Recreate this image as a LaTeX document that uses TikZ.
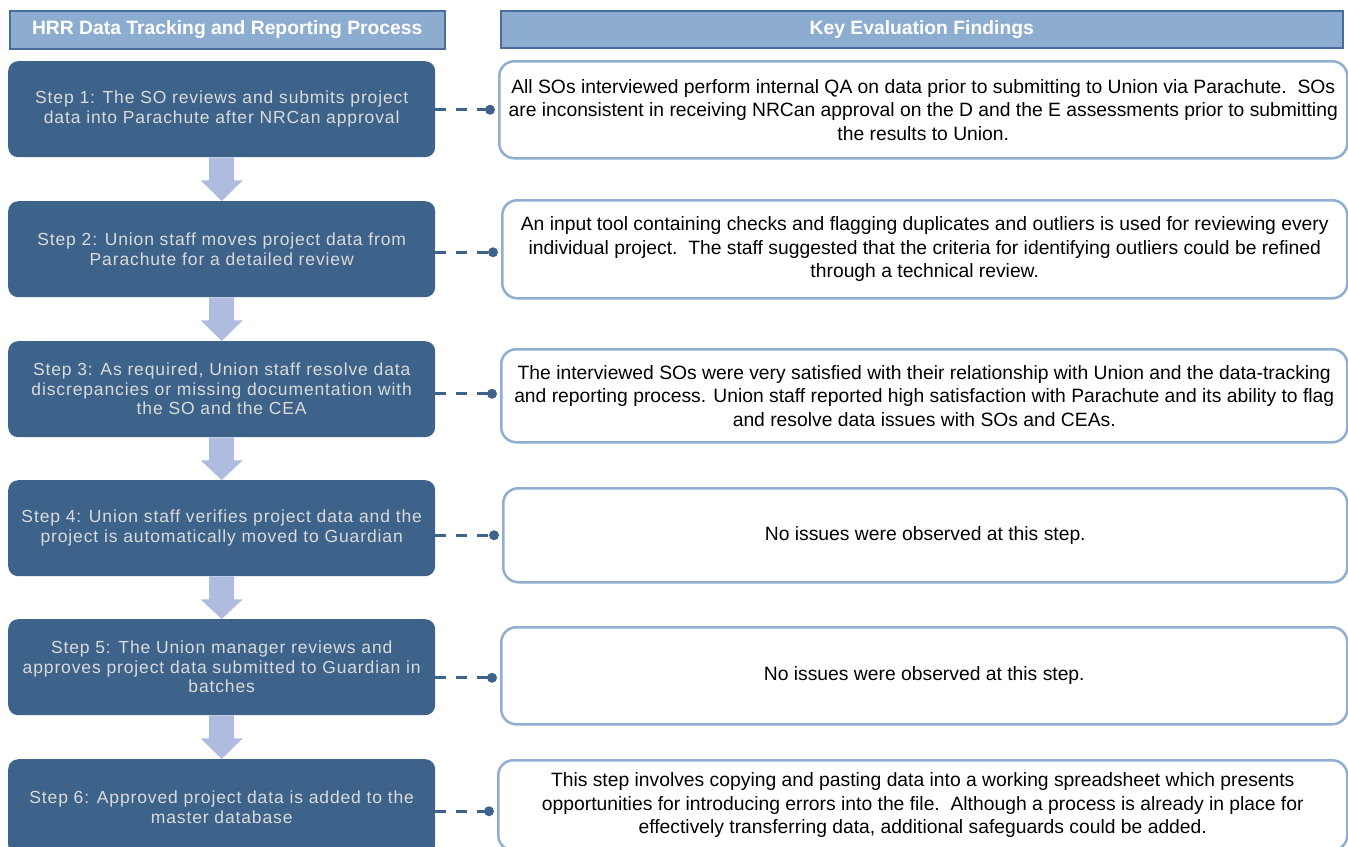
\documentclass[tikz,border=0pt]{standalone}
\usepackage{fontspec}
\setmainfont{Liberation Sans}
\newfontfamily\stepfont[LetterSpace=5]{Liberation Sans}
\definecolor{stepblue}{RGB}{62,99,138}
\definecolor{steptext}{RGB}{218,218,218}
\definecolor{headfill}{RGB}{141,173,208}
\definecolor{headline}{RGB}{74,108,158}
\definecolor{findline}{RGB}{143,174,210}
\definecolor{arrowfill}{RGB}{176,188,223}
\begin{document}
\begin{tikzpicture}[x=1pt,y=-1pt,
  stepbox/.style={fill=stepblue, draw=none, rounded corners=10pt, anchor=north west,
    minimum width=427pt, minimum height=96pt, align=center, text=steptext,
    font=\stepfont\fontsize{17.5}{19.5}\selectfont, inner sep=4pt},
  findbox/.style={fill=white, draw=findline, line width=2.5pt, rounded corners=15pt,
    anchor=north west, align=center, text=black, inner sep=2pt,
    font=\fontsize{19.3}{23.5}\selectfont},
  headbox/.style={fill=headfill, draw=headline, line width=1.5pt, anchor=north west,
    text=white, align=center, inner sep=0pt, font=\bfseries\fontsize{19.3}{22}\selectfont},
  conn/.style={draw=stepblue, line width=3pt, dash pattern=on 11pt off 10pt},
  blockarrow/.style={fill=arrowfill, draw=none}
]
\useasboundingbox (0,0) rectangle (1348,846);

% headers
\node[headbox, minimum width=435pt, minimum height=38pt] (h1) at (9,10) {HRR Data Tracking and Reporting Process};
\node[headbox, minimum width=842pt, minimum height=37pt] (h2) at (500,10) {Key Evaluation Findings};

% step boxes
\node[stepbox] (s1) at (8,61) {Step 1: The SO reviews and submits project\\data into Parachute after NRCan approval};
\node[stepbox] (s2) at (8,201) {Step 2: Union staff moves project data from\\Parachute for a detailed review};
\node[stepbox] (s3) at (8,341) {Step 3: As required, Union staff resolve data\\discrepancies or missing documentation with\\the SO and the CEA};
\node[stepbox] (s4) at (8,480) {Step 4: Union staff verifies project data and the\\project is automatically moved to Guardian};
\node[stepbox] (s5) at (8,619) {Step 5: The Union manager reviews and\\approves project data submitted to Guardian in\\batches};
\node[stepbox] (s6) at (8,759) {Step 6: Approved project data is added to the\\master database};

% block arrows
\foreach \i/\j in {1/2,2/3,3/4,4/5,5/6}{
  \fill[blockarrow] ([xshift=-12.5pt]s\i.south) -- ([xshift=-12.5pt,yshift=-23pt]s\i.south)
    -- ([xshift=-21pt,yshift=-23pt]s\i.south) -- (s\j.north)
    -- ([xshift=21pt,yshift=-23pt]s\i.south) -- ([xshift=12.5pt,yshift=-23pt]s\i.south)
    -- ([xshift=12.5pt]s\i.south) -- cycle;
}

% findings boxes
\node[findbox, minimum width=848pt, minimum height=97pt] (r1) at (498,60)
  {All SOs interviewed perform internal QA on data prior to submitting to Union via Parachute.\ \ SOs\\
   are inconsistent in receiving NRCan approval on the D and the E assessments prior to submitting\\
   the results to Union.};
\node[findbox, minimum width=845pt, minimum height=98pt] (r2) at (501,199)
  {An input tool containing checks and flagging duplicates and outliers is used for reviewing every\\
   individual project.\ \ The staff suggested that the criteria for identifying outliers could be refined\\
   through a technical review.};
\node[findbox, minimum width=846pt, minimum height=93pt] (r3) at (500,348)
  {The interviewed SOs were very satisfied with their relationship with Union and the data-tracking\\
   and reporting process. Union staff reported high satisfaction with Parachute and its ability to flag\\
   and resolve data issues with SOs and CEAs.};
\node[findbox, minimum width=844pt, minimum height=94pt] (r4) at (502,487)
  {No issues were observed at this step.};
\node[findbox, minimum width=846pt, minimum height=97pt] (r5) at (500,626)
  {No issues were observed at this step.};
\node[findbox, minimum width=849pt, minimum height=90pt] (r6) at (497,759)
  {This step involves copying and pasting data into a working spreadsheet which presents\\
   opportunities for introducing errors into the file.\ \ Although a process is already in place for\\
   effectively transferring data, additional safeguards could be added.};

% connectors
\foreach \i/\dy in {1/0,2/-3,3/2,4/0,5/-2,6/-6}{
  \coordinate (d\i) at ([xshift=-8pt,yshift=\dy pt]r\i.west);
  \draw[conn] (s\i.east |- d\i) -- (d\i);
  \fill[stepblue] (d\i) circle (5pt);
}
\end{tikzpicture}
\end{document}
